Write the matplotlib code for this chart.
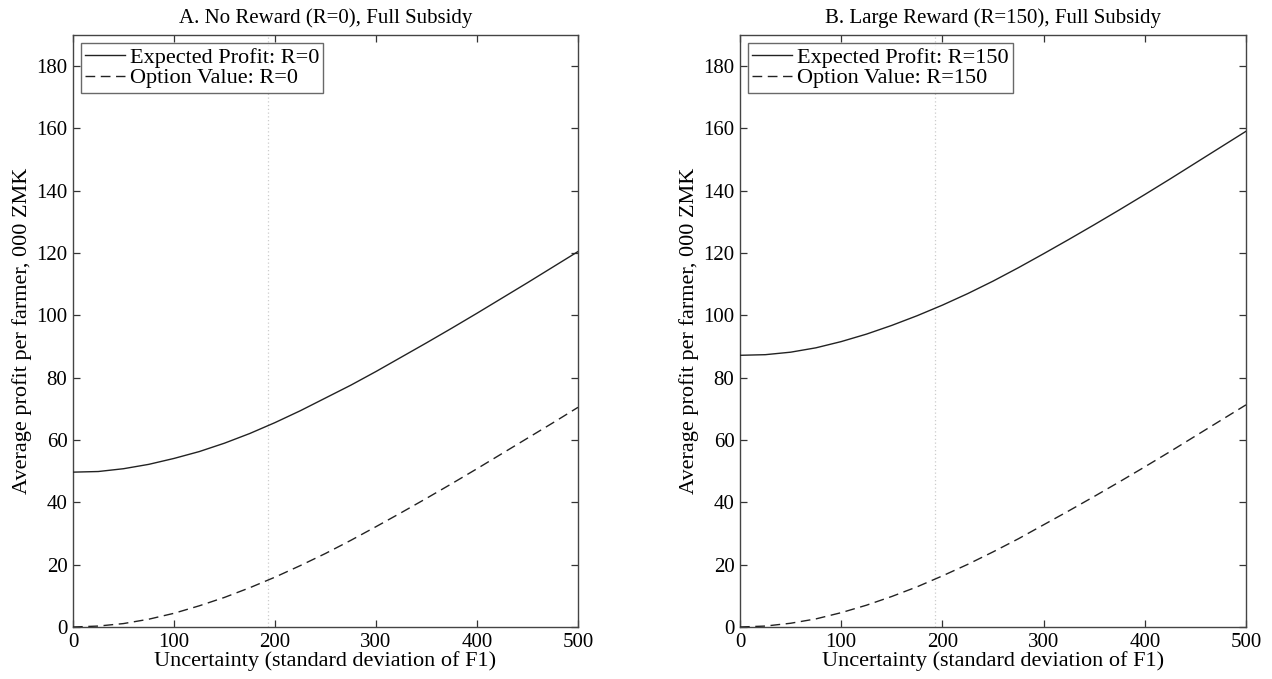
import matplotlib
matplotlib.use("Agg")
import matplotlib.pyplot as plt

plt.rcParams['font.family'] = ['Liberation Serif', 'DejaVu Serif']

x = [0, 25, 50, 75, 100, 125, 150, 175, 200, 225, 250, 275, 300, 325, 350, 375, 400, 425, 450, 475, 500]

ep_left = [49.7, 49.9, 50.8, 52.2, 54.1, 56.3, 59.0, 62.1, 65.6, 69.4, 73.5, 77.6, 82.0, 86.6, 91.2, 95.9, 100.7, 105.6, 110.5, 115.5, 120.5]
ov_left = [0.0, 0.3, 1.1, 2.5, 4.4, 6.8, 9.5, 12.6, 16.0, 19.7, 23.6, 27.8, 32.2, 36.7, 41.3, 46.0, 50.8, 55.7, 60.6, 65.5, 70.5]
ep_right = [87.2, 87.4, 88.2, 89.6, 91.6, 94.0, 96.8, 99.9, 103.3, 107.0, 111.0, 115.3, 119.8, 124.4, 129.1, 133.9, 138.8, 143.8, 148.9, 154.0, 159.1]
ov_right = [0.0, 0.3, 1.2, 2.6, 4.6, 7.0, 9.8, 12.9, 16.4, 20.1, 24.1, 28.3, 32.8, 37.3, 41.9, 46.6, 51.4, 56.3, 61.3, 66.3, 71.3]

titles = ["A. No Reward (R=0), Full Subsidy", "B. Large Reward (R=150), Full Subsidy"]
ep_labels = ["Expected Profit: R=0", "Expected Profit: R=150"]
ov_labels = ["Option Value: R=0", "Option Value: R=150"]
vline_x = 193
xticks = [0, 100, 200, 300, 400, 500]
yticks = [0, 20, 40, 60, 80, 100, 120, 140, 160, 180]

fig = plt.figure(figsize=(12.72, 6.79), dpi=100)
W, H = 1272, 679
boxes = [(73, 35, 578, 627), (740, 35, 1246, 627)]
series = [(ep_left, ov_left), (ep_right, ov_right)]

for i, (l, t, r, b) in enumerate(boxes):
    ax = fig.add_axes([l / W, 1 - b / H, (r - l) / W, (b - t) / H])
    ep, ov = series[i]
    ax.axvline(vline_x, color='#cccccc', lw=0.9, ls=(0, (1, 2)), zorder=1)
    ax.plot(x, ep, color='#222222', lw=1.0, label=ep_labels[i], zorder=3)
    ax.plot(x, ov, color='#222222', lw=1.0, ls=(0, (7, 4)), label=ov_labels[i], zorder=3)
    ax.set_xlim(0, 500)
    ax.set_ylim(0, 190)
    ax.set_xticks(xticks)
    ax.set_yticks(yticks)
    ax.tick_params(direction='in', top=True, right=True, length=5, width=0.9,
                   color='#333333', labelsize=15, pad=4)
    for s in ax.spines.values():
        s.set_color('#444444')
        s.set_linewidth(1.0)
    ax.set_title(titles[i], fontsize=15, pad=9)
    ax.set_xlabel("Uncertainty (standard deviation of F1)", fontsize=16, labelpad=0)
    ax.set_ylabel("Average profit per farmer, 000 ZMK", fontsize=16, labelpad=3)
    leg = ax.legend(loc='upper left', fontsize=16, frameon=True, fancybox=False,
                    handlelength=1.8, handletextpad=0.2, borderpad=0.2,
                    labelspacing=0.0, borderaxespad=0.35)
    leg.get_frame().set_edgecolor('#444444')
    leg.get_frame().set_linewidth(1.0)

fig.savefig("out.png", dpi=100)
